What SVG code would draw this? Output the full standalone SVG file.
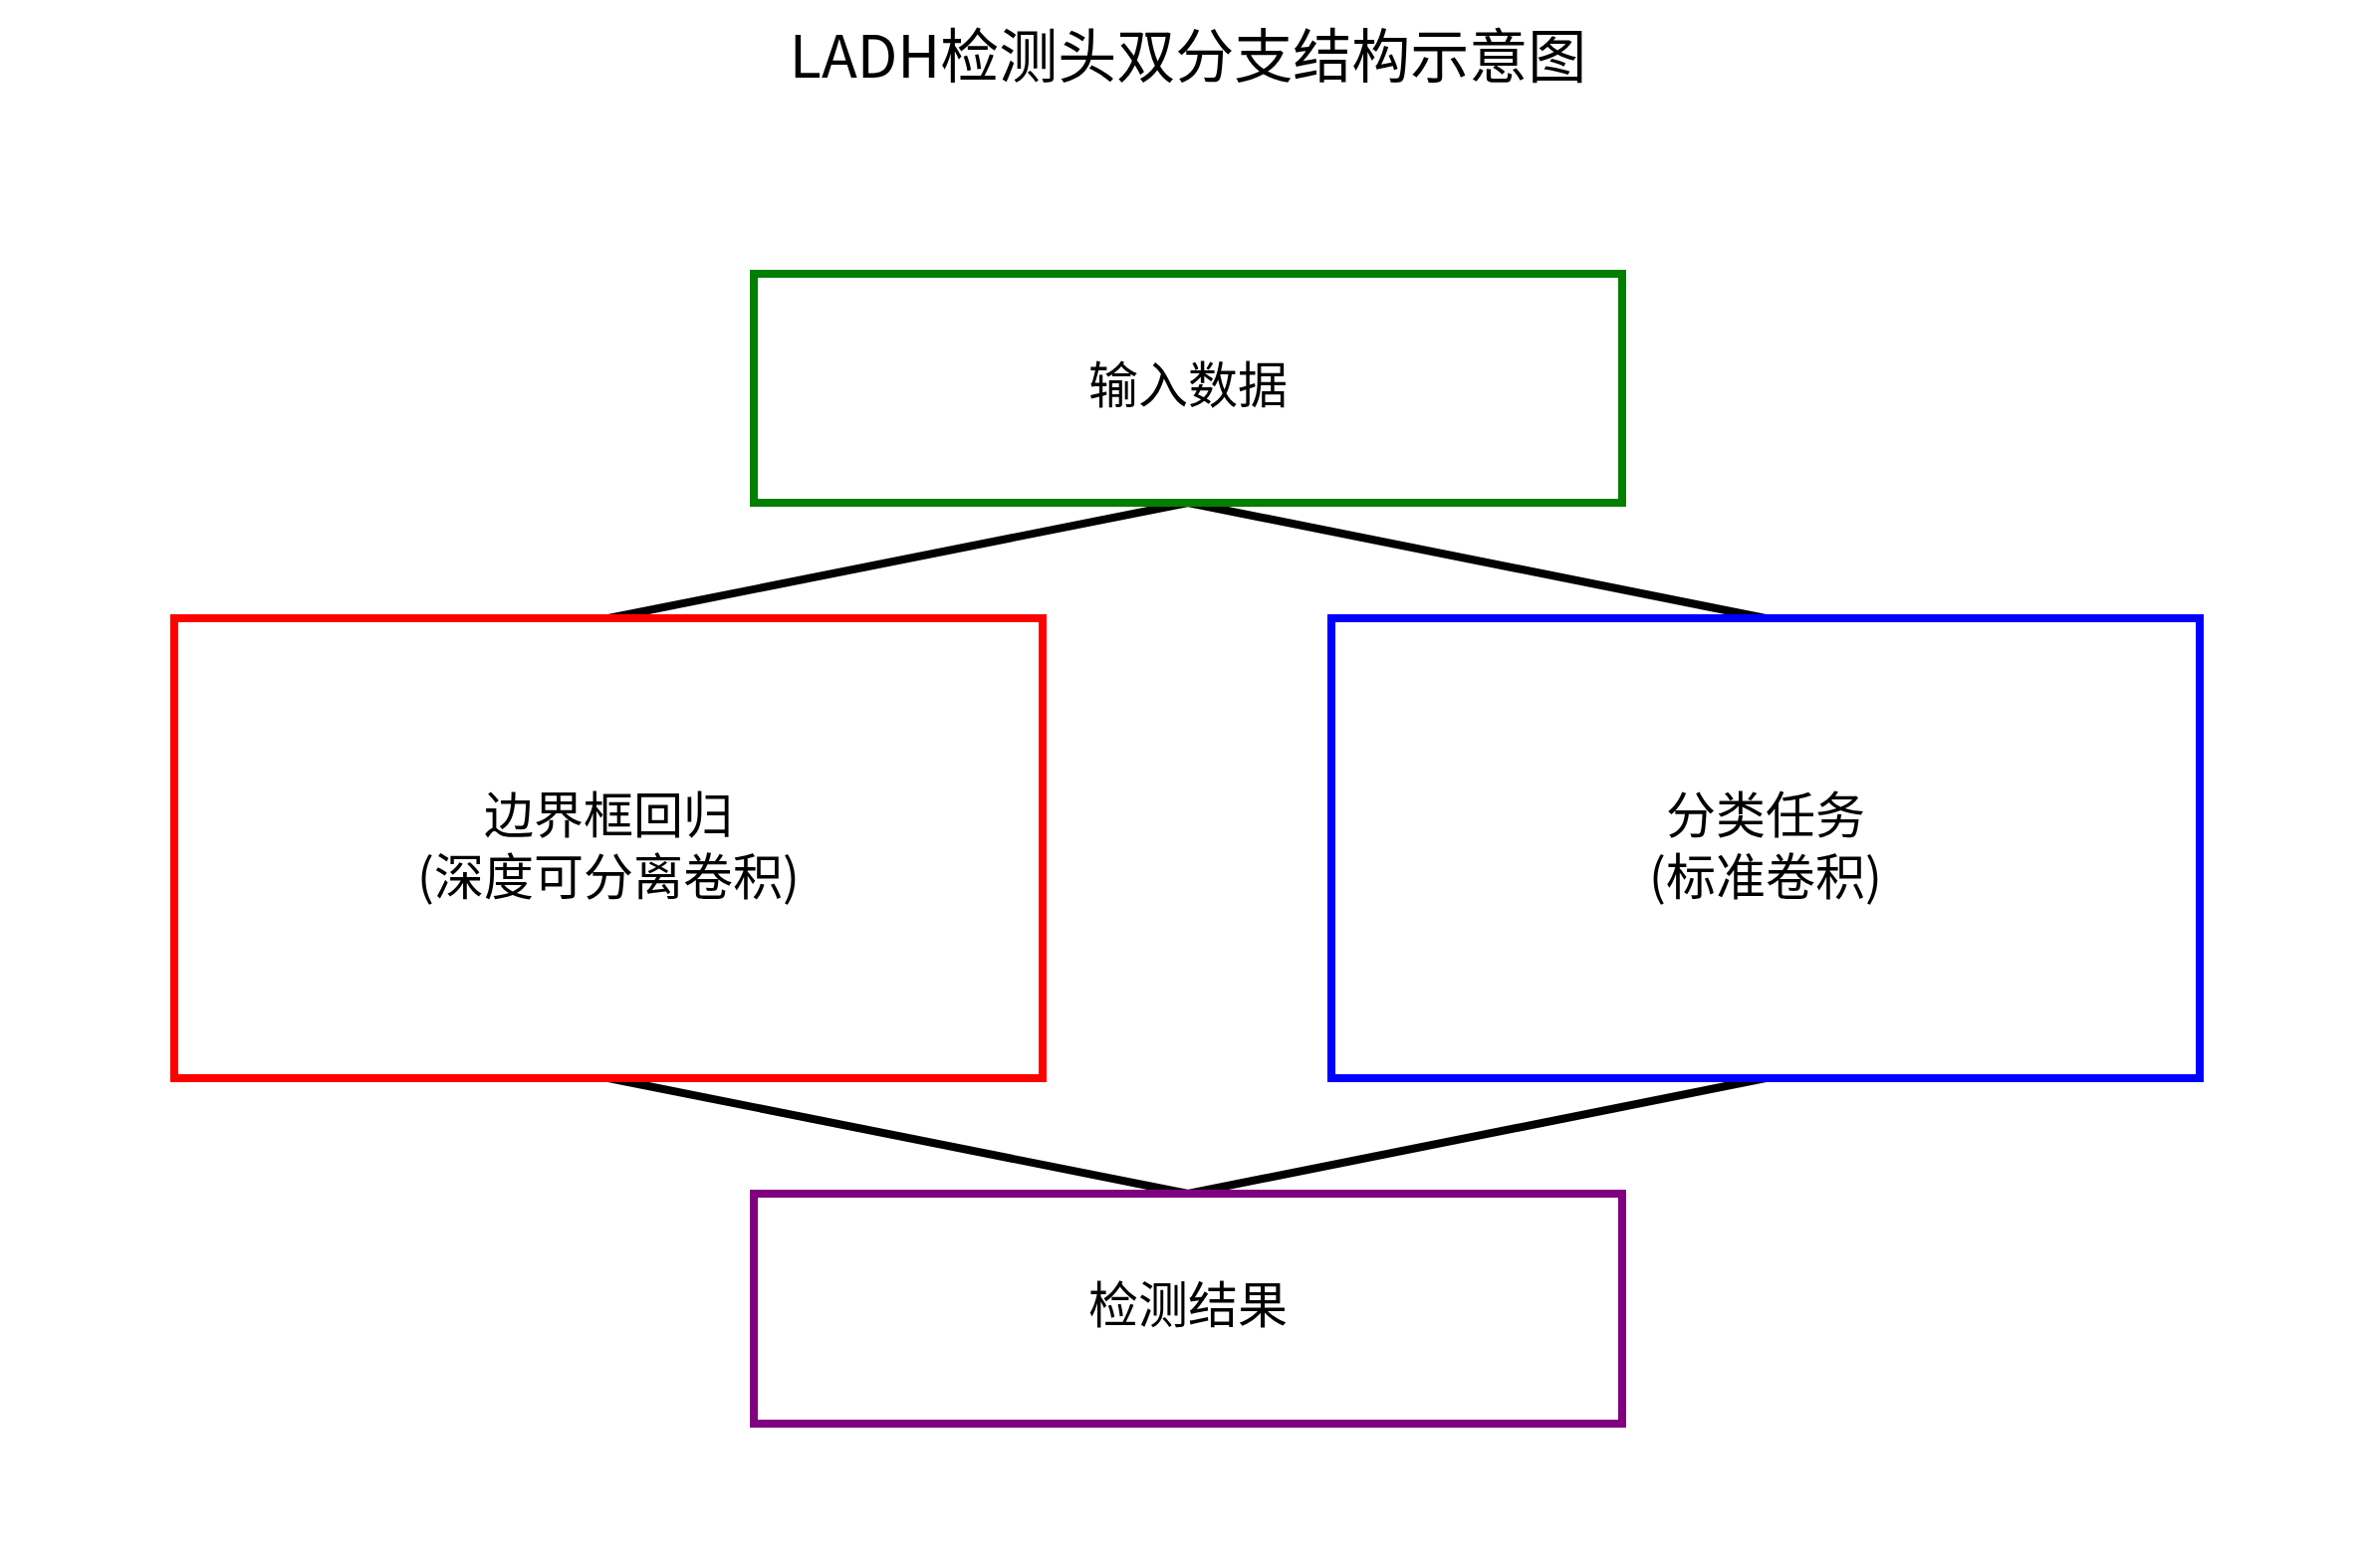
<svg xmlns="http://www.w3.org/2000/svg" width="2385" height="1575" viewBox="0 0 2385 1575">
<style>
text { font-family: "Noto Sans CJK SC", "DejaVu Sans", sans-serif; fill: #000; text-anchor: middle; }
.lbl { font-size: 50px; }
.title { font-size: 59px; }
.box { fill: none; stroke-width: 8; }
.conn { stroke: #000; stroke-width: 8; fill: none; stroke-linecap: butt; }
</style>
<rect width="2385" height="1575" fill="#fff"/>
<text class="title" x="1193" y="78">LADH检测头双分支结构示意图</text>
<g id="connectors">
<line class="conn" x1="1193" y1="505" x2="611" y2="621"/>
<line class="conn" x1="1193" y1="505" x2="1773" y2="621"/>
<line class="conn" x1="611" y1="1083" x2="1193" y2="1199"/>
<line class="conn" x1="1773" y1="1083" x2="1193" y2="1199"/>
</g>
<g id="input">
<rect class="box" x="757" y="275" width="872" height="230" stroke="#008000"/>
<text class="lbl" x="1193" y="405">输入数据</text>
</g>
<g id="bbox">
<rect class="box" x="175" y="621" width="872" height="462" stroke="#ff0000"/>
<text class="lbl" x="611" y="837">边界框回归</text>
<text class="lbl" x="611" y="899">(深度可分离卷积)</text>
</g>
<g id="cls">
<rect class="box" x="1337" y="621" width="872" height="462" stroke="#0000ff"/>
<text class="lbl" x="1773" y="837">分类任务</text>
<text class="lbl" x="1773" y="899">(标准卷积)</text>
</g>
<g id="result">
<rect class="box" x="757" y="1199" width="872" height="231" stroke="#800080"/>
<text class="lbl" x="1193" y="1329">检测结果</text>
</g>
</svg>
